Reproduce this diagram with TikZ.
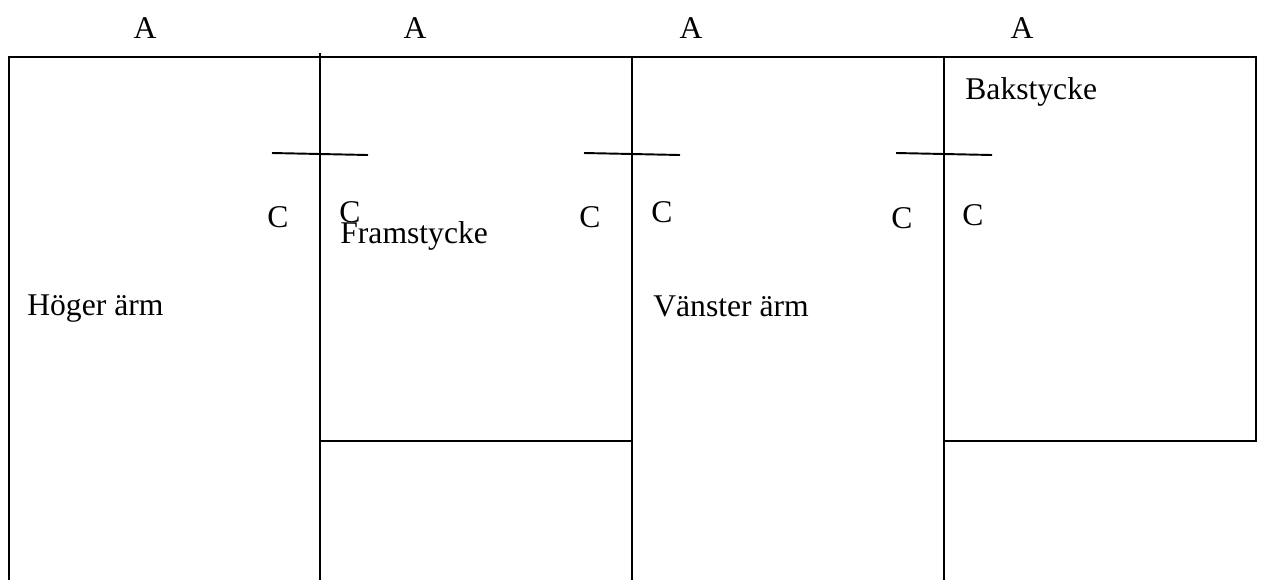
\documentclass[tikz,border=0pt]{standalone}
\usepackage{fontspec}
\setmainfont{Liberation Serif}

\begin{document}
\begin{tikzpicture}[
		x=0.02cm,
		y=-0.02cm,
		every node/.style={
			inner sep=0pt,
			font=\fontsize{18}{21}\selectfont
		},
		seam/.style={
			line width=1.1pt,
			line cap=rect
		},
		piece/.style={anchor=base west},
		letterlbl/.style={anchor=base}
	]

	\useasboundingbox (0,0) rectangle (1264,579);

	%outline of the pieces
	\draw[seam] (9,579) -- (9,57) -- (1256,57) -- (1256,441) -- (944,441);
	\draw[seam] (320,54) -- (320,579);
	\draw[seam] (632,57) -- (632,579);
	\draw[seam] (944,57) -- (944,579);
	\draw[seam] (320,441) -- (632,441);

	%cross marks
	\draw[line width=1.1pt] (272,153) -- (368,155);
	\draw[line width=1.1pt] (584,153) -- (680,155);
	\draw[line width=1.1pt] (896,153) -- (992,155);

	%labels
	\node[letterlbl] at (145,38) (a1) {A};
	\node[letterlbl] at (415,38) (a2) {A};
	\node[letterlbl] at (691,38) (a3) {A};
	\node[letterlbl] at (1022,38) (a4) {A};

	\node[letterlbl] at (278,227) (c1) {C};
	\node[letterlbl] at (350,222) (c2) {C};
	\node[letterlbl] at (590,227) (c3) {C};
	\node[letterlbl] at (662,222) (c4) {C};
	\node[letterlbl] at (902,228) (c5) {C};
	\node[letterlbl] at (973,225) (c6) {C};

	\node[piece] at (27,315) (hoger) {Höger ärm};
	\node[piece] at (340,243) (fram) {Framstycke};
	\node[piece] at (653,316) (vanster) {Vänster ärm};
	\node[piece] at (965,99) (bak) {Bakstycke};

\end{tikzpicture}
\end{document}
